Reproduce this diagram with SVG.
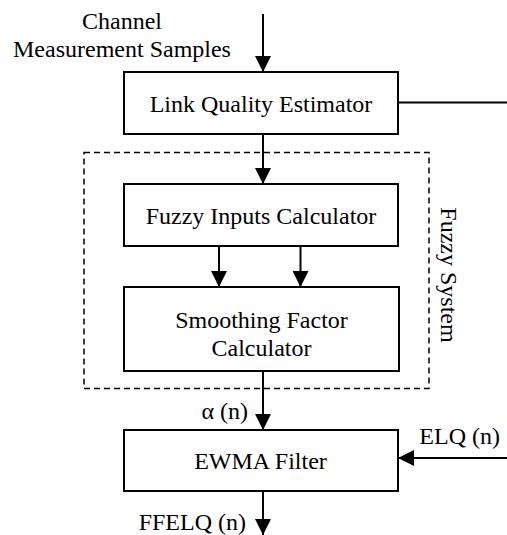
<svg xmlns="http://www.w3.org/2000/svg" width="507" height="535" viewBox="0 0 507 535">
<defs>
<style>
.box{fill:#fff;stroke:#000;stroke-width:2}
.ln{fill:none;stroke:#000;stroke-width:2}
.dash{fill:none;stroke:#000;stroke-width:1.5;stroke-dasharray:6,4}
text{font-family:"Liberation Serif","Times New Roman",serif;font-size:24px;fill:#000}
.c{text-anchor:middle}
</style>
<marker id="ah" markerWidth="8" markerHeight="8" refX="8" refY="4" orient="auto" markerUnits="userSpaceOnUse" viewBox="0 0 8 8">
<path d="M0,0 L8,4 L0,8 Z" fill="#000"/>
</marker>
<marker id="arr" markerWidth="16" markerHeight="16" refX="16" refY="8" orient="auto" markerUnits="userSpaceOnUse" viewBox="0 0 16 16">
<path d="M0,0 L16,8 L0,16 Z" fill="#000"/>
</marker>
</defs>
<rect width="507" height="535" fill="#fff"/>
<g id="fuzzy-system">
<rect class="dash" x="84" y="152.5" width="345" height="236"/>
<text class="c" transform="translate(441,275) rotate(90)">Fuzzy System</text>
</g>
<g id="input-label">
<text class="c" x="122" y="29">Channel</text>
<text class="c" x="122" y="57">Measurement Samples</text>
</g>
<g id="lqe">
<rect class="box" x="124" y="72" width="274" height="62"/>
<text class="c" x="261" y="112">Link Quality Estimator</text>
</g>
<g id="fic">
<rect class="box" x="124" y="184" width="274" height="62"/>
<text class="c" x="261" y="224">Fuzzy Inputs Calculator</text>
</g>
<g id="sfc">
<rect class="box" x="124" y="287" width="275" height="84"/>
<text class="c" x="261.5" y="328">Smoothing Factor</text>
<text class="c" x="261.5" y="356">Calculator</text>
</g>
<g id="ewma">
<rect class="box" x="124" y="430" width="274" height="61"/>
<text class="c" x="260.5" y="469">EWMA Filter</text>
</g>
<g id="connectors">
<line class="ln" x1="263" y1="14" x2="263" y2="72" marker-end="url(#arr)"/>
<line class="ln" x1="398" y1="102.5" x2="507" y2="102.5"/>
<line class="ln" x1="263" y1="134" x2="263" y2="184" marker-end="url(#arr)"/>
<line class="ln" x1="219" y1="246" x2="219" y2="287" marker-end="url(#arr)"/>
<line class="ln" x1="300.5" y1="246" x2="300.5" y2="287" marker-end="url(#arr)"/>
<line class="ln" x1="263" y1="371" x2="263" y2="430" marker-end="url(#arr)"/>
<line class="ln" x1="507" y1="458" x2="398" y2="458" marker-end="url(#arr)"/>
<line class="ln" x1="263" y1="491" x2="263" y2="535" marker-end="url(#arr)"/>
<text x="248" y="419" text-anchor="end">α (n)</text>
<text x="500" y="444" text-anchor="end">ELQ (n)</text>
<text x="246" y="530" text-anchor="end">FFELQ (n)</text>
</g>
</svg>
